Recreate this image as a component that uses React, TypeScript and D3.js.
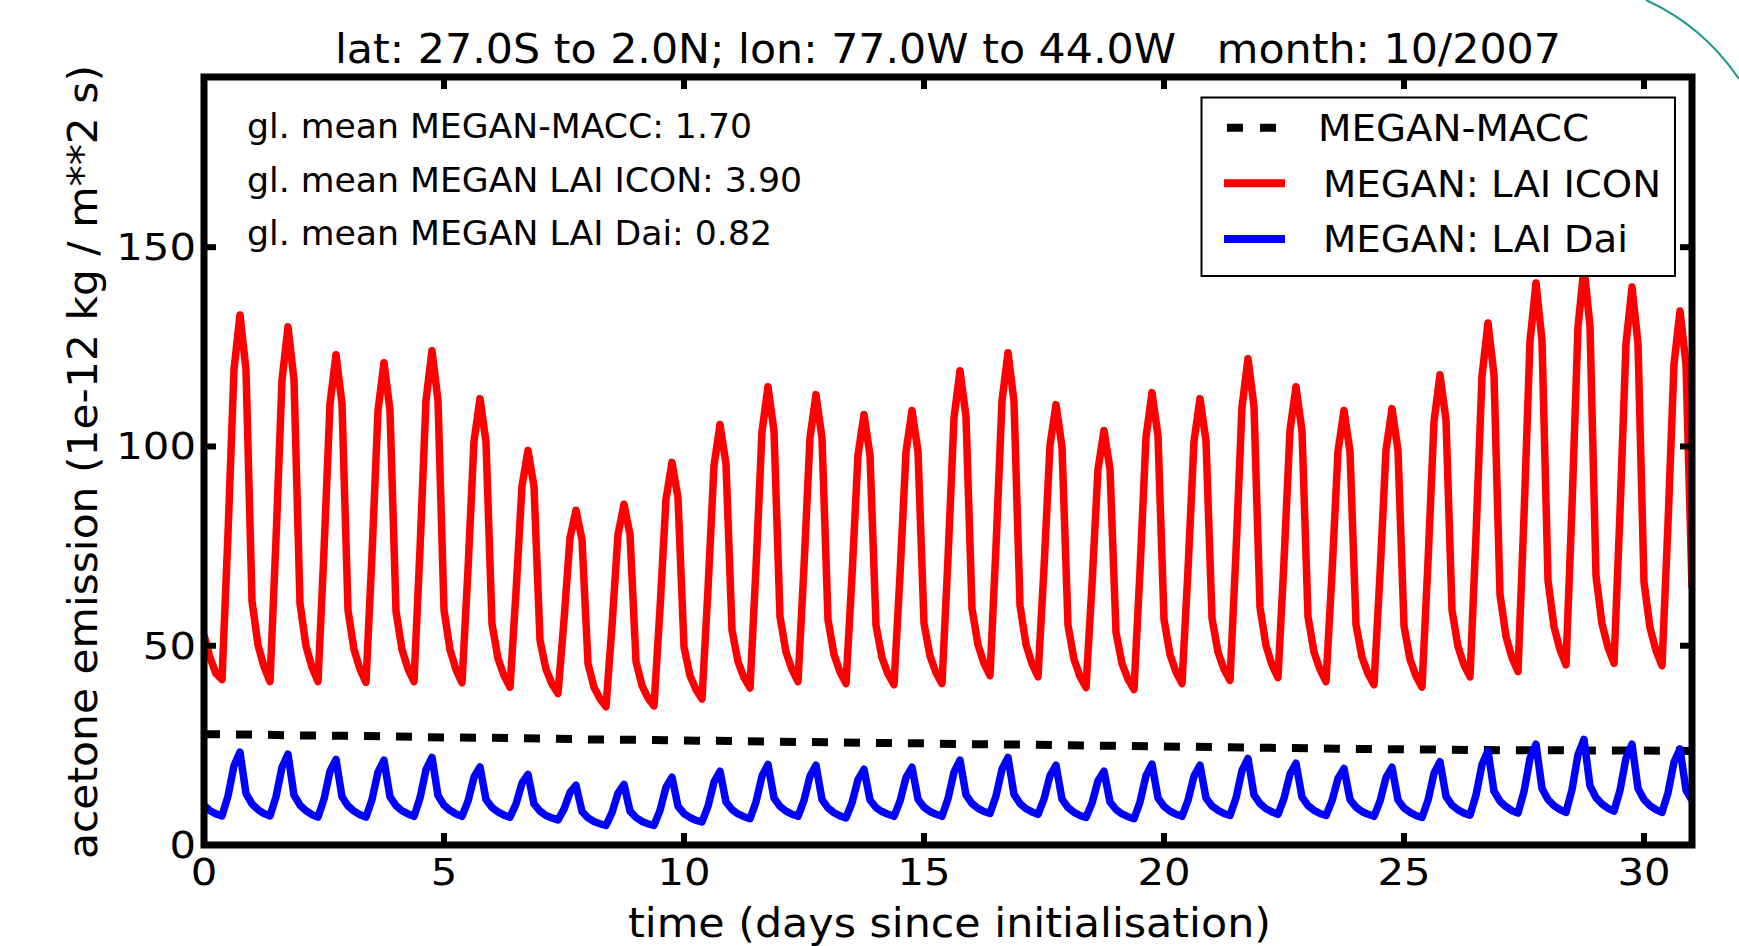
import React from "react";
import * as d3 from "d3";

// 3-hourly values, 8 per day, plus the closing value at day 31
const laiIcon = [
  52.7, 47, 43, 41.5, 78.1, 119.3, 133, 119.2,
  61.2, 50.2, 44.7, 41, 76.6, 116.7, 130, 116.7,
  60.6, 49.9, 44.6, 41, 73.8, 110.7, 123, 110.7,
  58.9, 49.0, 44.1, 40.8, 72.9, 109.0, 121, 109,
  58.6, 49, 44.2, 41, 74.2, 111.6, 124, 111.5,
  59.0, 49.0, 44.0, 40.7, 69.2, 101.3, 112, 101.1,
  55.5, 46.8, 42.5, 39.6, 63.4, 90.1, 99, 89.9,
  51.4, 44.1, 40.4, 38, 56.4, 77.1, 84, 76.6,
  45.5, 39.6, 36.7, 34.7, 55.0, 77.9, 85.5, 77.9,
  46.0, 40.0, 36.9, 34.9, 59.3, 86.8, 96, 87.1,
  49.7, 42.5, 39.0, 36.6, 64.2, 95.2, 105.5, 95.6,
  53.9, 46.0, 42.0, 39.4, 69.6, 103.7, 115, 103.9,
  57.3, 48.4, 44.0, 41, 69.8, 102.2, 113, 102.1,
  56.5, 47.8, 43.4, 40.5, 67.5, 97.9, 108, 97.8,
  55.1, 47.0, 42.9, 40.2, 67.7, 98.7, 109, 98.7,
  55.6, 47.4, 43.2, 40.5, 71.9, 107.2, 119, 107.5,
  59.3, 50.2, 45.6, 42.5, 74.9, 111.4, 123.5, 111.3,
  60.1, 50.3, 45.5, 42.2, 69.5, 100.3, 110.5, 99.9,
  55.1, 46.6, 42.3, 39.5, 65.3, 94.3, 104, 94.3,
  53.3, 45.5, 41.6, 39, 68.8, 102.3, 113.5, 102.6,
  56.6, 47.8, 43.4, 40.5, 69.1, 101.3, 112, 101.4,
  56.9, 48.4, 44.1, 41.3, 73.6, 109.9, 122, 110,
  59.6, 50, 45.2, 42, 71.2, 104.1, 115, 103.9,
  57.3, 48.4, 44.0, 41, 68.2, 98.8, 109, 98.7,
  55.3, 47.1, 43.0, 40.2, 67.9, 99.1, 109.5, 99.0,
  55.0, 46.6, 42.4, 39.6, 71.0, 106.2, 118, 106.6,
  58.9, 49.8, 45.2, 42.2, 77.7, 117.7, 131, 117.9,
  62.8, 52.3, 47.0, 43.5, 82.5, 126.4, 141, 126.6,
  66.3, 54.8, 49.0, 45.2, 85.1, 130.0, 145, 130.1,
  67.5, 55.5, 49.6, 45.6, 83.4, 125.8, 140, 125.8,
  65.9, 54.5, 48.8, 45, 80.6, 120.7, 134, 120.7,
  64.6,
];

const laiDai = [
  10.0, 8.6, 7.8, 7.3, 12.3, 19.9, 23.3, 12.9,
  10.3, 8.9, 7.9, 7.3, 12.1, 19.5, 22.8, 12.5,
  10.0, 8.6, 7.6, 7.0, 11.5, 18.5, 21.5, 12.1,
  9.8, 8.5, 7.6, 7.0, 11.4, 18.3, 21.3, 12.1,
  9.9, 8.6, 7.8, 7.2, 11.8, 18.9, 22.0, 12.4,
  10.0, 8.7, 7.8, 7.2, 11.0, 17.0, 19.6, 11.4,
  9.4, 8.3, 7.5, 7.0, 10.3, 15.5, 17.7, 10.3,
  8.5, 7.4, 6.8, 6.3, 9.0, 13.2, 15.0, 8.4,
  6.8, 5.9, 5.3, 4.9, 8.1, 13.0, 15.2, 8.5,
  6.9, 5.9, 5.3, 4.9, 8.7, 14.5, 17.0, 9.7,
  7.9, 6.9, 6.2, 5.8, 9.7, 15.8, 18.5, 10.8,
  8.9, 7.8, 7.1, 6.6, 10.8, 17.3, 20.2, 11.8,
  9.7, 8.5, 7.7, 7.2, 11.2, 17.3, 20.0, 11.4,
  9.3, 8.1, 7.3, 6.8, 10.6, 16.4, 19.0, 11.3,
  9.4, 8.4, 7.7, 7.2, 11.0, 16.9, 19.5, 11.5,
  9.5, 8.4, 7.7, 7.2, 11.6, 18.3, 21.3, 12.6,
  10.4, 9.2, 8.4, 7.9, 12.3, 19.0, 22.0, 12.7,
  10.4, 9.1, 8.3, 7.7, 11.5, 17.4, 20.0, 11.5,
  9.4, 8.2, 7.4, 6.9, 10.5, 16.1, 18.5, 10.8,
  8.9, 7.8, 7.1, 6.6, 10.8, 17.4, 20.3, 11.8,
  9.7, 8.5, 7.7, 7.2, 11.2, 17.3, 20.0, 11.8,
  9.8, 8.7, 7.9, 7.4, 11.8, 18.7, 21.7, 12.6,
  10.4, 9.1, 8.3, 7.7, 11.7, 17.8, 20.5, 12.0,
  9.9, 8.7, 7.9, 7.4, 11.1, 16.7, 19.2, 11.4,
  9.5, 8.4, 7.7, 7.2, 11.0, 16.9, 19.5, 11.3,
  9.3, 8.2, 7.4, 6.9, 11.2, 18.0, 20.9, 12.2,
  10.0, 8.8, 8.0, 7.5, 12.5, 20.2, 23.6, 13.5,
  11.0, 9.6, 8.6, 8.0, 13.4, 21.7, 25.3, 14.2,
  11.4, 9.9, 8.9, 8.2, 13.9, 22.7, 26.5, 14.8,
  11.9, 10.3, 9.2, 8.5, 13.7, 21.8, 25.3, 14.2,
  11.4, 9.9, 8.9, 8.2, 13.1, 20.8, 24.1, 13.8,
  11.2,
];

// daily values, day 0 .. 31
const megan = [
  27.8, 27.7, 27.5, 27.4, 27.2, 27.0, 26.9, 26.7, 26.5, 26.4, 26.2, 26.1,
  25.9, 25.8, 25.6, 25.5, 25.3, 25.2, 25.0, 24.9, 24.7, 24.6, 24.4, 24.3,
  24.1, 24.0, 23.9, 23.8, 23.8, 23.7, 23.7, 23.6,
];

const xTicks = [0, 5, 10, 15, 20, 25, 30];
const yTicks = [0, 50, 100, 150];

const title = "lat: 27.0S to 2.0N; lon: 77.0W to 44.0W   month: 10/2007";
const xLabel = "time (days since initialisation)";
const yLabel = "acetone emission (1e-12 kg / m**2 s)";

const notes = [
  "gl. mean MEGAN-MACC: 1.70",
  "gl. mean MEGAN LAI ICON: 3.90",
  "gl. mean MEGAN LAI Dai: 0.82",
];
const noteLengths = [505, 555, 525];

const legendLabels = ["MEGAN-MACC", "MEGAN: LAI ICON", "MEGAN: LAI Dai"];
const legendLengths = [271, 338, 305];
const legendColors = ["#000000", "#ff0000", "#0000ff"];

const font = "'DejaVu Sans', sans-serif";
const tickSize = 38;
// the picture is a little stretched sideways, so digits are widened to match
const digitW = 0.636 * tickSize * 1.1;

export default function App() {
  const left = 204, right = 1692, top = 77, bottom = 845;

  const x = d3.scaleLinear().domain([0, 31]).range([left, right]);
  const y = d3.scaleLinear().domain([0, 192.7]).range([bottom, top]);

  const line3h = d3
    .line<number>()
    .x((_, i) => x(i / 8))
    .y((d) => y(d));
  const lineDaily = d3
    .line<number>()
    .x((_, i) => x(i))
    .y((d) => y(d));

  return (
    <svg
      width={1739}
      height={946}
      viewBox="0 0 1739 946"
      style={{ position: "absolute", left: 0, top: 0, background: "#fff", display: "block" }}
      fontFamily={font}
    >
      <defs>
        <clipPath id="plot">
          <rect x={left} y={top} width={right - left} height={bottom - top} />
        </clipPath>
      </defs>

      <g clipPath="url(#plot)" fill="none" strokeLinejoin="round">
        <path d={lineDaily(megan) ?? ""} stroke="#000" strokeWidth={8} strokeDasharray="16 16" />
        <path d={line3h(laiIcon) ?? ""} stroke="#ff0000" strokeWidth={7.5} />
        <path d={line3h(laiDai) ?? ""} stroke="#0000ff" strokeWidth={7.5} />
      </g>

      {/* annotations */}
      {notes.map((t, i) => (
        <text
          key={t}
          x={247}
          y={138 + i * 53.5}
          fontSize={33}
          textLength={noteLengths[i]}
          lengthAdjust="spacingAndGlyphs"
          fill="#000"
        >
          {t}
        </text>
      ))}

      {/* legend */}
      <g>
        <rect x={1201.5} y={97.5} width={473.5} height={178.5} fill="#fff" stroke="#000" strokeWidth={2} />
        {legendLabels.map((lab, i) => {
          const cy = 127.7 + i * 55.6;
          return (
            <g key={lab}>
              <line
                x1={i === 0 ? 1227 : 1224}
                x2={i === 0 ? 1289 : 1285}
                y1={cy}
                y2={cy}
                stroke={legendColors[i]}
                strokeWidth={8}
                strokeDasharray={i === 0 ? "16 17" : undefined}
              />
              <text
                x={i === 0 ? 1318 : 1323}
                y={cy + 13.5}
                fontSize={38}
                textLength={legendLengths[i]}
                lengthAdjust="spacingAndGlyphs"
                fill="#000"
              >
                {lab}
              </text>
            </g>
          );
        })}
      </g>

      {/* spines */}
      <rect x={left} y={top} width={right - left} height={bottom - top} fill="none" stroke="#000" strokeWidth={7} />

      {/* ticks */}
      <g stroke="#000" strokeWidth={6}>
        {xTicks.map((t) => (
          <g key={"xt" + t}>
            <line x1={x(t)} x2={x(t)} y1={bottom} y2={bottom - 12} />
            <line x1={x(t)} x2={x(t)} y1={top} y2={top + 12} />
          </g>
        ))}
        {yTicks.map((t) => (
          <g key={"yt" + t}>
            <line x1={left} x2={left + 12} y1={y(t)} y2={y(t)} />
            <line x1={right} x2={right - 12} y1={y(t)} y2={y(t)} />
          </g>
        ))}
      </g>

      {/* tick labels */}
      <g fontSize={tickSize} fill="#000">
        {xTicks.map((t) => (
          <text
            key={"xl" + t}
            x={x(t)}
            y={885}
            textAnchor="middle"
            textLength={String(t).length * digitW}
            lengthAdjust="spacingAndGlyphs"
          >
            {t}
          </text>
        ))}
        {yTicks.map((t) => (
          <text
            key={"yl" + t}
            x={196}
            y={y(t) + 13}
            textAnchor="end"
            textLength={String(t).length * digitW}
            lengthAdjust="spacingAndGlyphs"
          >
            {t}
          </text>
        ))}
      </g>

      {/* titles */}
      <text
        x={335}
        y={63}
        fontSize={40}
        textLength={1226}
        lengthAdjust="spacingAndGlyphs"
        style={{ whiteSpace: "pre" }}
        xmlSpace="preserve"
      >
        {title}
      </text>
      <text x={628} y={937} fontSize={41} textLength={643} lengthAdjust="spacingAndGlyphs">
        {xLabel}
      </text>
      <text
        transform="translate(97,859) rotate(-90)"
        x={0}
        y={0}
        fontSize={40}
        textLength={794}
        lengthAdjust="spacingAndGlyphs"
      >
        {yLabel}
      </text>

      {/* slide decoration arc */}
      <path d="M1646,0 A225,225 0 0 1 1739,79" fill="none" stroke="#1b998b" strokeWidth={2} />
    </svg>
  );
}
